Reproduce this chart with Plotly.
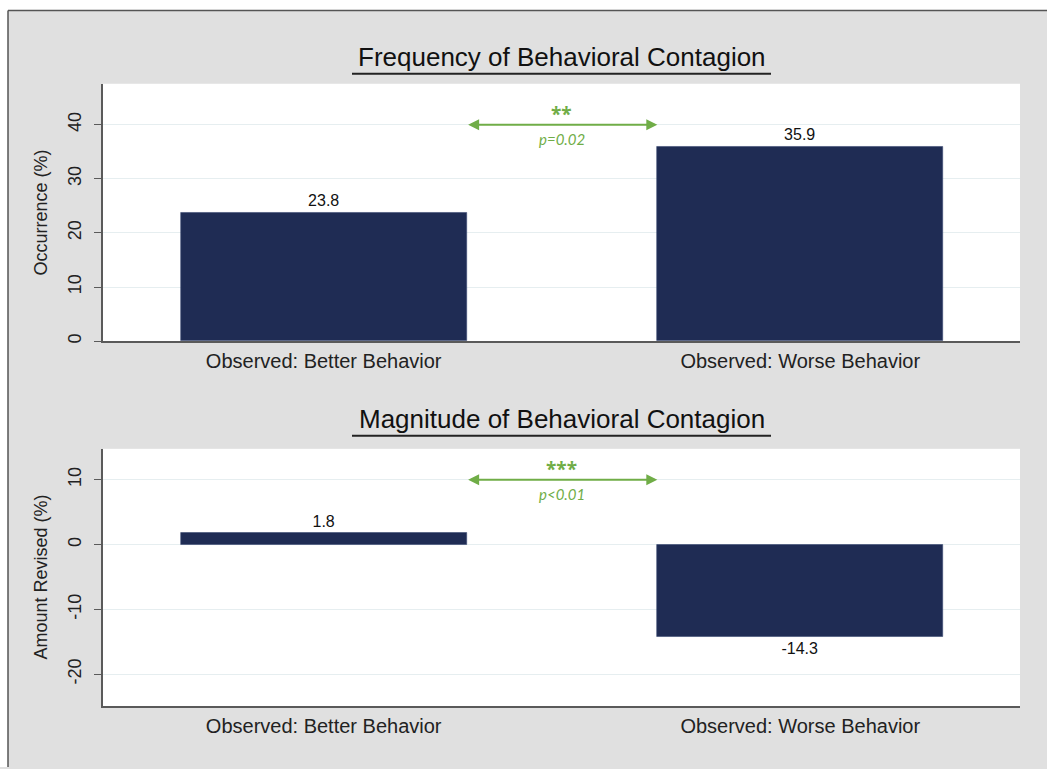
import plotly.graph_objects as go

# ---- data ----
categories = ["Observed: Better Behavior", "Observed: Worse Behavior"]
occurrence = [23.8, 35.9]
amount_revised = [1.8, -14.3]
titles = ["Frequency of Behavioral Contagion", "Magnitude of Behavioral Contagion"]
ytitles = ["Occurrence (%)", "Amount Revised (%)"]
yticks_top = [0, 10, 20, 30, 40]
yticks_bottom = [-20, -10, 0, 10]
sig_stars = ["**", "***"]
sig_p = ["p=0.02", "p<0.01"]
sig_level = [40, 10]

W, H = 1047, 769
BAR = "#1f2c54"
GREEN = "#70ad47"
GRID = "#e6eef0"
AXC = "#5a5a5a"
FONT = "Liberation Sans, Arial, sans-serif"

def px(x):
    return x / W

def py(y):
    return 1 - y / H

x_pos = list(range(len(categories)))

fig = go.Figure()
fig.add_trace(go.Bar(x=x_pos, y=occurrence, width=0.6, marker=dict(color=BAR, line=dict(color="#3b4a72", width=0.6)),
                     text=[f"{v:.1f}" for v in occurrence], textposition="outside",
                     textfont=dict(family=FONT, size=16, color="#111"), cliponaxis=False,
                     xaxis="x", yaxis="y", showlegend=False, hoverinfo="skip"))
fig.add_trace(go.Bar(x=x_pos, y=amount_revised, width=0.6, marker=dict(color=BAR, line=dict(color="#3b4a72", width=0.6)),
                     text=[f"{v:.1f}" for v in amount_revised], textposition="outside",
                     textfont=dict(family=FONT, size=16, color="#111"), cliponaxis=False,
                     xaxis="x2", yaxis="y2", showlegend=False, hoverinfo="skip"))

xdom = [px(103), px(1020)]
xrange = [-0.463, 1.461]

common_x = dict(domain=xdom, range=xrange, tickmode="array", tickvals=x_pos, ticktext=categories,
                showgrid=False, zeroline=False, showline=True, linecolor=AXC, linewidth=1.5,
                ticks="", tickfont=dict(family=FONT, size=20, color="#222"), ticklabelstandoff=1,
                fixedrange=True)
common_y = dict(showgrid=True, gridcolor=GRID, gridwidth=1.2, zeroline=False, showline=True,
                linecolor=AXC, linewidth=1.5, ticks="outside", ticklen=7, tickcolor=AXC, tickwidth=1.2,
                tickangle=-90, tickfont=dict(family=FONT, size=18, color="#222"), ticklabelstandoff=6,
                tickmode="array", fixedrange=True)

fig.update_layout(
    width=W, height=H, margin=dict(l=0, r=0, t=0, b=0),
    paper_bgcolor="#e0e0e0", plot_bgcolor="white",
    bargap=0,
    xaxis=dict(**common_x, anchor="y"),
    yaxis=dict(**common_y, domain=[py(342), py(84)], range=[0, 47.56], tickvals=yticks_top,
               ticktext=[str(v) for v in yticks_top], anchor="x"),
    xaxis2=dict(**common_x, anchor="y2"),
    yaxis2=dict(**common_y, domain=[py(708), py(450)], range=[-24.92, 14.77], tickvals=yticks_bottom,
                ticktext=[str(v) for v in yticks_bottom], anchor="x2"),
)

# outer frame: white margin above/left, dark border
fig.add_shape(type="rect", xref="paper", yref="paper", x0=0, x1=px(8), y0=0, y1=1,
              fillcolor="white", line=dict(width=0), layer="above")
fig.add_shape(type="rect", xref="paper", yref="paper", x0=0, x1=1, y0=py(10.5), y1=1,
              fillcolor="white", line=dict(width=0), layer="above")
fig.add_shape(type="line", xref="paper", yref="paper", x0=px(8), x1=1, y0=py(10.5), y1=py(10.5),
              line=dict(color="#555", width=1.5), layer="above")
fig.add_shape(type="line", xref="paper", yref="paper", x0=px(8), x1=px(8), y0=0, y1=py(10.5),
              line=dict(color="#555", width=1.5), layer="above")

annotations = []
title_y = [57, 420]
ytitle_y = [213, 579]
for i in range(2):
    annotations.append(dict(text=titles[i], xref="paper", yref="paper", x=px(561.5), y=py(title_y[i]),
                            xanchor="center", yanchor="middle", showarrow=False,
                            font=dict(family=FONT, size=26, color="#111")))
    fig.add_shape(type="line", xref="paper", yref="paper", x0=px(352), x1=px(771),
                  y0=py(title_y[i] + 17), y1=py(title_y[i] + 17), line=dict(color="#222", width=2))
    annotations.append(dict(text=ytitles[i], xref="paper", yref="paper", x=px(41), y=py(ytitle_y[i]),
                            xanchor="center", yanchor="middle", textangle=-90, showarrow=False,
                            font=dict(family=FONT, size=18, color="#222")))
    xr = "x" if i == 0 else "x2"
    yr = "y" if i == 0 else "y2"
    annotations.append(dict(x=0.7, y=sig_level[i], ax=0.3, ay=sig_level[i], xref=xr, yref=yr,
                            axref=xr, ayref=yr, text="", showarrow=True, arrowhead=2, startarrowhead=2,
                            arrowside="end+start", arrowsize=1.1, startarrowsize=1.1, arrowwidth=2,
                            arrowcolor=GREEN, standoff=0, startstandoff=0))
    annotations.append(dict(x=0.5, y=sig_level[i], xref=xr, yref=yr, text=f"<b>{sig_stars[i]}</b>",
                            showarrow=False, yshift=11, font=dict(family="Open Sans, sans-serif", size=19, color=GREEN)))
    annotations.append(dict(x=0.5, y=sig_level[i], xref=xr, yref=yr, text=f"<i>{sig_p[i]}</i>",
                            showarrow=False, yshift=-14, font=dict(family="Lato, Open Sans, sans-serif", size=15, color=GREEN)))

fig.update_layout(annotations=annotations)
fig.write_html("out.html", config={"displayModeBar": False},
               post_script="document.body.style.margin='0';document.body.style.overflow='hidden';")
